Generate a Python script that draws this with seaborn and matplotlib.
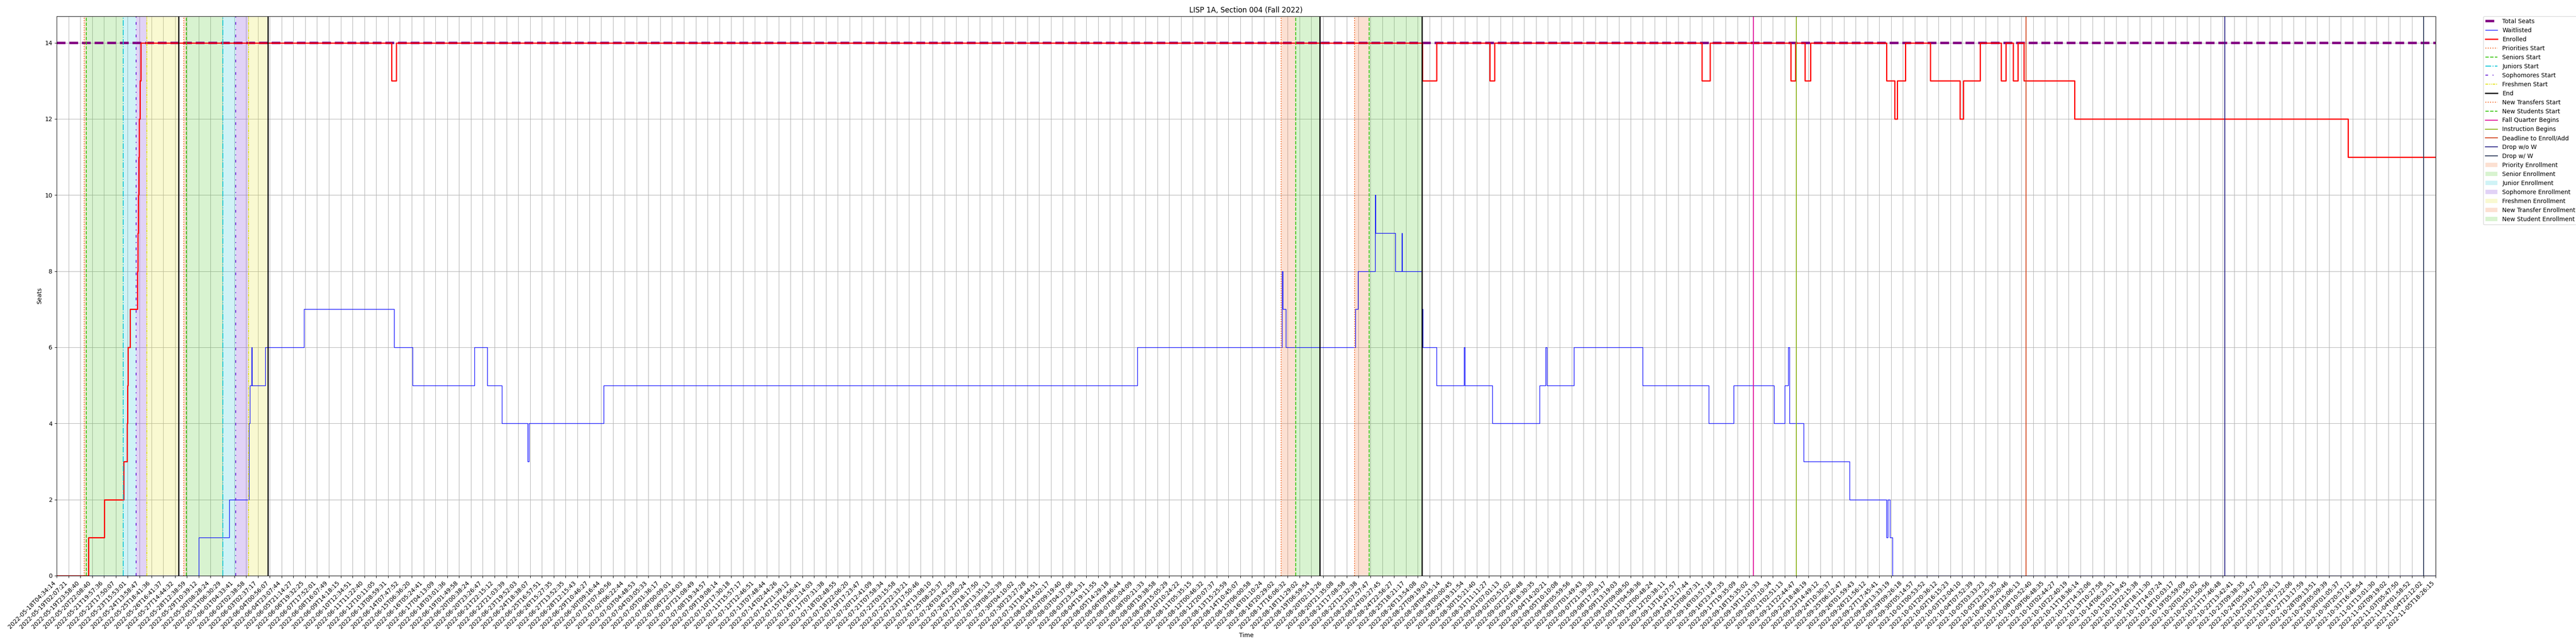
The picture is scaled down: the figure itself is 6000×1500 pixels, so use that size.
import seaborn as sns
import matplotlib.pyplot as plt

# x positions are in tick units (tick i sits at x = i)
enrolled_x = [0, 2.70, 4.03, 5.66, 5.95, 5.98, 6.03, 6.20, 6.83, 6.86, 6.89, 6.93, 6.98, 7.05, 7.12,
              28.3, 28.7, 115.38, 116.6, 121.1, 121.5, 139.0, 139.7, 146.5, 146.9, 147.7, 148.2,
              154.6, 155.3, 155.5, 156.2, 158.3, 160.8, 161.1, 162.5, 164.3, 164.7, 165.3, 165.7,
              166.2, 166.4, 170.5, 193.6, 201]
enrolled_y = [0, 1, 2, 3, 4, 5, 6, 7, 8, 9, 10, 11, 12, 13, 14,
              13, 14, 13, 14, 13, 14, 13, 14, 13, 14, 13, 14,
              13, 12, 13, 14, 13, 12, 13, 14, 13, 14, 13, 14,
              13, 13, 12, 11, 11]

waitlist_x = [0, 12.0, 14.57, 16.24, 16.26, 16.33, 16.48, 16.52, 17.63, 20.9, 28.5, 30.06, 35.3, 36.4,
              37.6, 39.8, 39.9, 46.2, 91.3, 103.53, 103.6, 103.86, 109.74, 109.96, 111.41, 111.45,
              113.1, 113.65, 113.7, 115.36, 115.44, 116.6, 118.9, 119.0, 121.3, 125.3, 125.8, 125.9,
              128.2, 134.0, 139.6, 141.7, 145.1, 146.0, 146.3, 146.4, 147.6, 151.5, 154.6, 154.7,
              154.9, 155.1, 155.3, 201]
waitlist_y = [0, 1, 2, 3, 4, 5, 6, 5, 6, 7, 6, 5, 6, 5,
              4, 3, 4, 5, 6, 8, 7, 6, 7, 8, 10, 9,
              8, 9, 8, 7, 6, 5, 6, 5, 4, 5, 6, 5,
              6, 5, 4, 5, 4, 5, 6, 4, 3, 2, 1, 2,
              1, 0, 0, 0]

seats_x = [0, 201]
seats_y = [14, 14]

# enrollment windows (tick units)
window_starts = [2.33, 10.74]
senior_starts = [2.51, 10.97]
junior_starts = [5.62, 14.04]
soph_starts = [6.71, 15.14]
fresh_starts = [7.63, 16.21]
new_transfer_starts = [103.46, 109.67]
new_student_starts = [104.69, 110.9]
end_lines = [10.31, 17.86, 106.71, 115.35]
fall_begins = 143.35
instruction_begins = 146.97
add_deadline = 166.4
drop_no_w = 183.2
drop_w = 199.97

tick_labels = [
    "2022-05-18T04:34:14", "2022-05-19T02:07:21", "2022-05-19T23:58:40", "2022-05-20T22:08:40",
    "2022-05-21T19:57:36", "2022-05-22T17:50:07", "2022-05-23T15:53:01", "2022-05-24T13:58:47",
    "2022-05-25T18:41:36", "2022-05-26T16:41:37", "2022-05-27T14:44:32", "2022-05-28T12:38:59",
    "2022-05-29T10:39:12", "2022-05-30T08:28:24", "2022-05-31T06:30:29", "2022-06-01T04:33:41",
    "2022-06-02T02:38:58", "2022-06-03T02:37:17", "2022-06-04T00:56:07", "2022-06-04T23:07:44",
    "2022-06-05T21:14:27", "2022-06-06T19:32:25", "2022-06-07T17:52:01", "2022-06-08T16:07:49",
    "2022-06-09T14:18:15", "2022-06-10T12:34:51", "2022-06-11T11:22:40", "2022-06-12T10:11:05",
    "2022-06-13T08:59:31", "2022-06-14T07:47:52", "2022-06-15T06:36:20", "2022-06-16T05:24:41",
    "2022-06-17T04:13:09", "2022-06-18T03:01:36", "2022-06-19T01:49:58", "2022-06-20T00:38:24",
    "2022-06-20T23:26:47", "2022-06-21T22:15:12", "2022-06-22T21:03:39", "2022-06-23T19:52:03",
    "2022-06-24T18:38:07", "2022-06-25T16:57:51", "2022-06-26T15:27:35", "2022-06-27T13:52:35",
    "2022-06-28T12:15:43", "2022-06-29T10:46:27", "2022-06-30T09:16:44", "2022-07-01T07:40:56",
    "2022-07-02T06:22:44", "2022-07-03T04:48:53", "2022-07-04T03:05:33", "2022-07-05T01:36:17",
    "2022-07-06T00:09:01", "2022-07-06T22:34:03", "2022-07-07T21:08:49", "2022-07-08T19:34:57",
    "2022-07-09T19:08:14", "2022-07-10T17:30:18", "2022-07-11T15:57:17", "2022-07-12T12:46:51",
    "2022-07-13T07:48:44", "2022-07-14T02:44:26", "2022-07-14T21:39:12", "2022-07-15T16:56:41",
    "2022-07-16T12:14:03", "2022-07-17T07:31:38", "2022-07-18T02:48:55", "2022-07-18T22:06:20",
    "2022-07-19T17:23:47", "2022-07-20T12:41:09", "2022-07-21T07:58:34", "2022-07-22T03:15:58",
    "2022-07-22T22:33:21", "2022-07-23T17:50:46", "2022-07-24T13:08:10", "2022-07-25T08:25:37",
    "2022-07-26T03:42:59", "2022-07-26T23:00:24", "2022-07-27T18:17:50", "2022-07-28T13:35:13",
    "2022-07-29T08:52:39", "2022-07-30T04:10:02", "2022-07-30T23:27:28", "2022-07-31T18:44:51",
    "2022-08-01T14:02:17", "2022-08-02T09:19:40", "2022-08-03T04:37:06", "2022-08-03T23:54:31",
    "2022-08-04T19:11:55", "2022-08-05T14:29:18", "2022-08-06T09:46:44", "2022-08-07T05:04:09",
    "2022-08-08T00:21:33", "2022-08-08T19:38:58", "2022-08-09T15:05:29", "2022-08-10T10:24:22",
    "2022-08-11T05:35:15", "2022-08-12T00:46:32", "2022-08-12T20:07:37", "2022-08-13T15:25:59",
    "2022-08-14T10:45:07", "2022-08-15T06:00:58", "2022-08-16T01:10:24", "2022-08-16T20:29:02",
    "2022-08-17T16:06:32", "2022-08-18T11:29:02", "2022-08-19T06:59:54", "2022-08-20T02:13:26",
    "2022-08-20T21:35:08", "2022-08-21T17:08:58", "2022-08-22T12:32:38", "2022-08-23T07:57:47",
    "2022-08-24T03:27:45", "2022-08-24T22:56:27", "2022-08-25T18:21:17", "2022-08-26T13:54:08",
    "2022-08-27T09:19:03", "2022-08-28T04:45:14", "2022-08-29T00:00:45", "2022-08-29T19:31:54",
    "2022-08-30T15:21:40", "2022-08-31T11:11:27", "2022-09-01T07:01:13", "2022-09-02T02:51:02",
    "2022-09-02T22:40:48", "2022-09-03T18:30:35", "2022-09-04T14:20:21", "2022-09-05T10:10:08",
    "2022-09-06T05:59:56", "2022-09-07T01:49:43", "2022-09-07T21:39:30", "2022-09-08T17:29:17",
    "2022-09-09T13:19:03", "2022-09-10T09:08:50", "2022-09-11T04:58:36", "2022-09-12T00:48:24",
    "2022-09-12T20:38:11", "2022-09-13T16:27:57", "2022-09-14T12:17:44", "2022-09-15T08:07:31",
    "2022-09-16T03:57:18", "2022-09-16T23:47:35", "2022-09-17T19:35:09", "2022-09-18T15:35:02",
    "2022-09-19T11:21:33", "2022-09-20T07:10:34", "2022-09-21T02:51:13", "2022-09-21T22:44:47",
    "2022-09-22T18:48:19", "2022-09-23T14:49:12", "2022-09-24T10:30:37", "2022-09-25T06:12:47",
    "2022-09-26T01:59:43", "2022-09-26T21:56:12", "2022-09-27T17:45:41", "2022-09-28T13:33:19",
    "2022-09-29T09:26:18", "2022-09-30T05:14:57", "2022-10-01T00:53:52", "2022-10-01T20:36:12",
    "2022-10-02T16:15:23", "2022-10-03T12:04:10", "2022-10-04T07:52:39", "2022-10-05T03:33:23",
    "2022-10-05T23:25:35", "2022-10-06T19:20:46", "2022-10-07T15:06:13", "2022-10-08T10:52:40",
    "2022-10-09T06:48:35", "2022-10-10T02:44:27", "2022-10-10T22:40:19", "2022-10-11T18:36:14",
    "2022-10-12T14:32:06", "2022-10-13T10:27:58", "2022-10-14T06:23:51", "2022-10-15T02:19:45",
    "2022-10-15T22:15:38", "2022-10-16T18:11:30", "2022-10-17T14:07:24", "2022-10-18T10:03:17",
    "2022-10-19T05:59:09", "2022-10-20T01:55:02", "2022-10-20T21:50:56", "2022-10-21T17:46:48",
    "2022-10-22T13:42:41", "2022-10-23T09:38:35", "2022-10-24T05:34:27", "2022-10-25T01:30:20",
    "2022-10-25T21:26:13", "2022-10-26T17:22:06", "2022-10-27T13:17:59", "2022-10-28T09:13:51",
    "2022-10-29T05:09:39", "2022-10-30T01:05:37", "2022-10-30T20:57:12", "2022-10-31T16:48:54",
    "2022-11-01T13:01:30", "2022-11-02T09:19:02", "2022-11-03T05:47:50", "2022-11-04T01:58:52",
    "2022-11-04T22:12:02", "2022-11-05T18:26:15",
]

fig, ax = plt.subplots(figsize=(60, 15), dpi=100)

sns.lineplot(x=seats_x, y=seats_y, ax=ax, color="purple", lw=4, linestyle="--", label="Total Seats",
             estimator=None, sort=False)
sns.lineplot(x=waitlist_x, y=waitlist_y, ax=ax, color="blue", lw=1, drawstyle="steps-post",
             label="Waitlisted", estimator=None, sort=False)
sns.lineplot(x=enrolled_x, y=enrolled_y, ax=ax, color="red", lw=2, drawstyle="steps-post",
             label="Enrolled", estimator=None, sort=False)

c_prio, c_sen, c_jun, c_soph, c_fresh = "#f26522", "#3cc614", "#12c7d6", "#6a22d6", "#e2e21c"
for i in range(2):
    ax.axvline(window_starts[i], color=c_prio, ls=":", lw=1.5, label="Priorities Start")
    ax.axvline(senior_starts[i], color=c_sen, ls="--", lw=1.5, label="Seniors Start")
    ax.axvline(junior_starts[i], color=c_jun, ls="-.", lw=1.5, label="Juniors Start")
    ax.axvline(soph_starts[i], color=c_soph, ls=(0, (3, 5, 1, 5)), lw=1.5, label="Sophomores Start")
    ax.axvline(fresh_starts[i], color=c_fresh, ls=(0, (3, 1, 1, 1, 1, 1)), lw=1.5, label="Freshmen Start")
    ax.axvline(end_lines[i], color="black", lw=2, label="End")
    ax.axvspan(window_starts[i], senior_starts[i], color=c_prio, alpha=0.2, lw=0, label="Priority Enrollment")
    ax.axvspan(senior_starts[i], junior_starts[i], color=c_sen, alpha=0.2, lw=0, label="Senior Enrollment")
    ax.axvspan(junior_starts[i], soph_starts[i], color=c_jun, alpha=0.2, lw=0, label="Junior Enrollment")
    ax.axvspan(soph_starts[i], fresh_starts[i], color=c_soph, alpha=0.2, lw=0, label="Sophomore Enrollment")
    ax.axvspan(fresh_starts[i], end_lines[i], color=c_fresh, alpha=0.2, lw=0, label="Freshmen Enrollment")
for i in range(2):
    ax.axvline(new_transfer_starts[i], color=c_prio, ls=":", lw=1.5, label="New Transfers Start")
    ax.axvline(new_student_starts[i], color=c_sen, ls="--", lw=1.5, label="New Students Start")
    ax.axvline(end_lines[i + 2], color="black", lw=2)
    ax.axvspan(new_transfer_starts[i], new_student_starts[i], color=c_prio, alpha=0.2, lw=0,
               label="New Transfer Enrollment")
    ax.axvspan(new_student_starts[i], end_lines[i + 2], color=c_sen, alpha=0.2, lw=0,
               label="New Student Enrollment")
ax.axvline(fall_begins, color="#e0129a", lw=1.5, label="Fall Quarter Begins")
ax.axvline(instruction_begins, color="#8db51c", lw=1.5, label="Instruction Begins")
ax.axvline(add_deadline, color="#d2461e", lw=1.5, label="Deadline to Enroll/Add")
ax.axvline(drop_no_w, color="#2e2a8a", lw=1.5, label="Drop w/o W")
ax.axvline(drop_w, color="#2e3c5c", lw=1.5, label="Drop w/ W")

ax.set_xlim(0, 201)
ax.set_ylim(0, 14.7)
ax.set_xticks(range(len(tick_labels)))
ax.set_xticklabels(tick_labels, rotation=45, ha="right")
ax.set_yticks(range(0, 15, 2))
ax.grid(True)
ax.set_axisbelow(True)
ax.set_title("LISP 1A, Section 004 (Fall 2022)")
ax.set_xlabel("Time")
ax.set_ylabel("Seats")

# one legend entry per label, lines first then shaded windows
handles, labels = ax.get_legend_handles_labels()
seen = {}
for h, l in zip(handles, labels):
    if l not in seen:
        seen[l] = h
legend_order = ["Total Seats", "Waitlisted", "Enrolled", "Priorities Start", "Seniors Start", "Juniors Start",
                "Sophomores Start", "Freshmen Start", "End", "New Transfers Start", "New Students Start",
                "Fall Quarter Begins", "Instruction Begins", "Deadline to Enroll/Add", "Drop w/o W", "Drop w/ W",
                "Priority Enrollment", "Senior Enrollment", "Junior Enrollment", "Sophomore Enrollment",
                "Freshmen Enrollment", "New Transfer Enrollment", "New Student Enrollment"]
ax.legend([seen[l] for l in legend_order], legend_order, loc="upper left", bbox_to_anchor=(1.02, 1),
          borderaxespad=0)

plt.subplots_adjust(left=0.022, right=0.9455, top=0.975, bottom=0.106)
plt.savefig("out.png")
